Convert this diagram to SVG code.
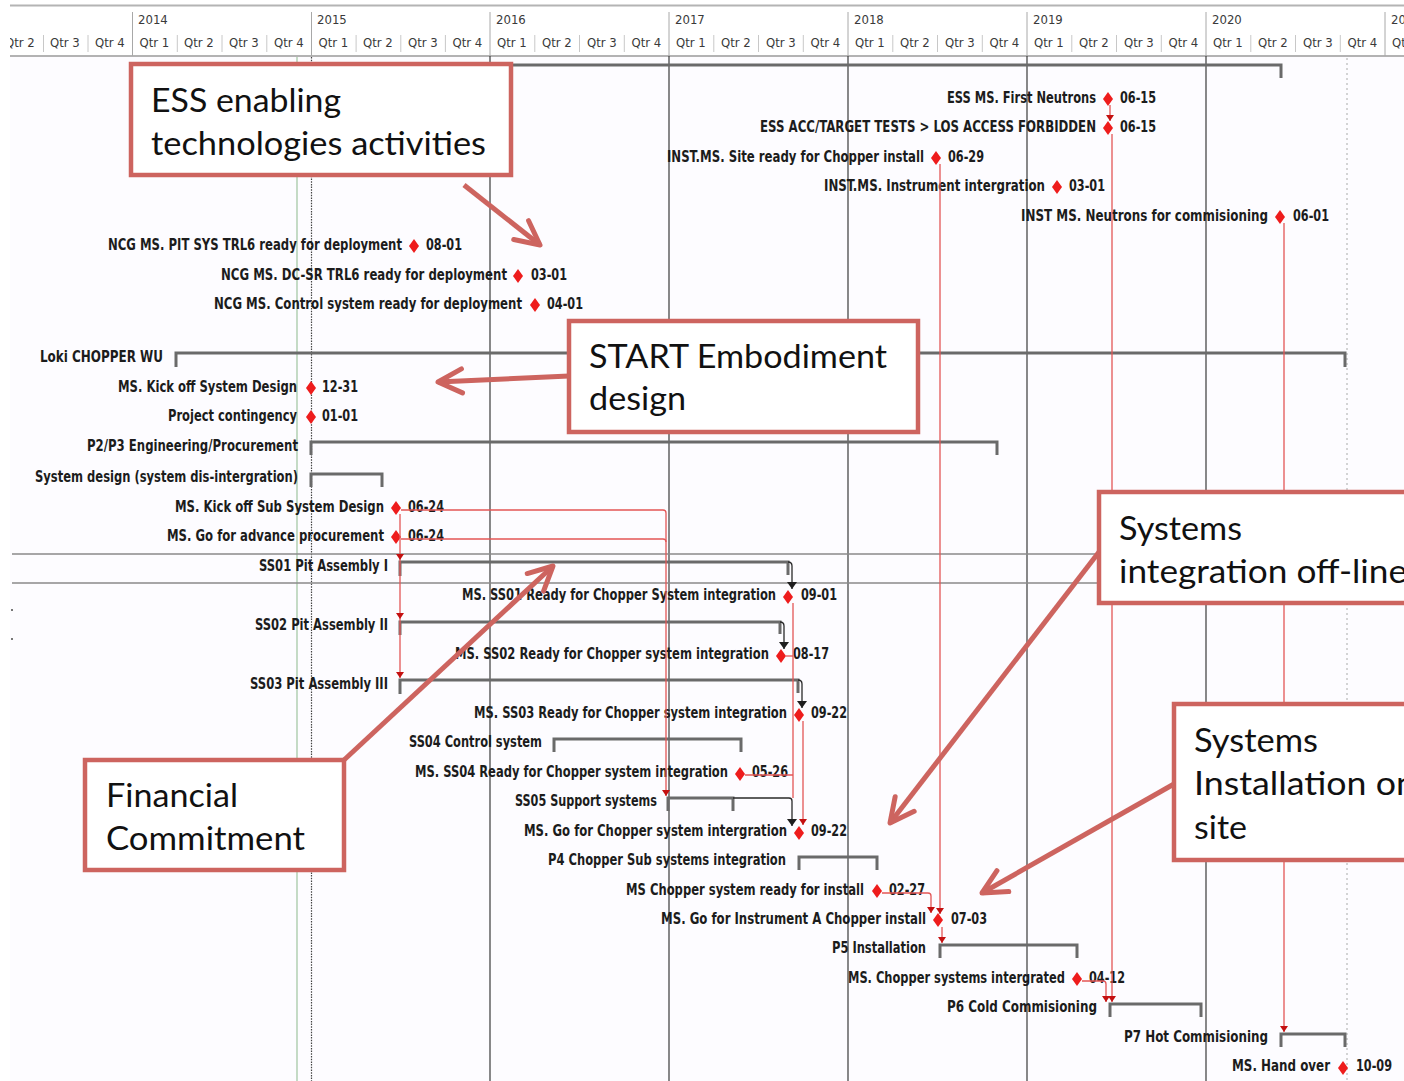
<svg xmlns="http://www.w3.org/2000/svg" xmlns:xlink="http://www.w3.org/1999/xlink" width="1404" height="1081" viewBox="0 0 1404 1081">
  <style>
    .lbl { font-family: "Liberation Sans Narrow", "DejaVu Sans Condensed", "Liberation Sans", sans-serif; font-size: 16px; font-weight: bold; fill: #1c1c1c; }
    .hdr { font-family: "Liberation Sans Narrow", "DejaVu Sans Condensed", "Liberation Sans", sans-serif; font-size: 13px; fill: #3a3a3a; }
    .sum { fill: none; stroke: #6a6a6a; stroke-width: 3; }
    .grid { stroke: #3a3a3a; stroke-width: 1.2; }
    .link { fill: none; stroke: #e35656; stroke-width: 1.3; }
    .blk { fill: none; stroke: #2a2a2a; stroke-width: 1.3; }
    .box { fill: #ffffff; stroke: #cd645f; stroke-width: 4.5; }
    .call { fill: none; stroke: #cd645f; stroke-width: 5; }
    .ctext { font-family: Lato, "Open Sans", "Liberation Sans", sans-serif; font-size: 33px; fill: #111111; }
    .qtick { stroke: #c8c8c8; stroke-width: 1; }
    .ytick { stroke: #a8a8a8; stroke-width: 1; }
  </style>
  <defs>
    <path id="ms" d="M0,-7 L5,0 L0,7 L-5,0 Z" fill="#ee1c1c"/>
    <marker id="ah-red" viewBox="0 0 6 8" refX="6" refY="4" markerWidth="6" markerHeight="8" markerUnits="userSpaceOnUse" orient="auto">
      <path d="M0,0 L6,4 L0,8 Z" fill="#c41010"/>
    </marker>
    <marker id="ah-black" viewBox="0 0 7 10" refX="7" refY="5" markerWidth="7" markerHeight="10" markerUnits="userSpaceOnUse" orient="auto">
      <path d="M0,0 L7,5 L0,10 Z" fill="#1e1e1e"/>
    </marker>
    <marker id="ah-call" viewBox="0 0 30 30" refX="27" refY="15" markerWidth="30" markerHeight="30" markerUnits="userSpaceOnUse" orient="auto">
      <path d="M3,3 L27,15 L3,27" fill="none" stroke="#cd645f" stroke-width="5" stroke-linecap="round" stroke-linejoin="round"/>
    </marker>
    <clipPath id="hdr-clip"><rect x="10" y="0" width="1394" height="60"/></clipPath>
  </defs>

  <!-- chart background -->
  <rect x="0" y="0" width="1404" height="1081" fill="#ffffff"/>
  <rect x="10" y="56" width="1394" height="1025" fill="#fdfcff"/>

  <!-- timescale header -->
  <g id="timescale" clip-path="url(#hdr-clip)">
    <line x1="10" y1="5.5" x2="1404" y2="5.5" stroke="#b4b4b4" stroke-width="2"/>
    <line x1="10" y1="56" x2="1404" y2="56" stroke="#9a9a9a" stroke-width="1.5"/>
    <g class="ytick">
      <line x1="132.5" y1="12" x2="132.5" y2="56"/>
      <line x1="311.5" y1="12" x2="311.5" y2="56"/>
      <line x1="490" y1="12" x2="490" y2="56"/>
      <line x1="669" y1="12" x2="669" y2="56"/>
      <line x1="848" y1="12" x2="848" y2="56"/>
      <line x1="1027" y1="12" x2="1027" y2="56"/>
      <line x1="1206" y1="12" x2="1206" y2="56"/>
      <line x1="1385" y1="12" x2="1385" y2="56"/>
    </g>
    <g class="qtick">
      <line x1="43.5" y1="35" x2="43.5" y2="52"/>
      <line x1="88" y1="35" x2="88" y2="52"/>
      <line x1="177.3" y1="35" x2="177.3" y2="52"/>
      <line x1="222" y1="35" x2="222" y2="52"/>
      <line x1="266.8" y1="35" x2="266.8" y2="52"/>
      <line x1="356.1" y1="35" x2="356.1" y2="52"/>
      <line x1="400.8" y1="35" x2="400.8" y2="52"/>
      <line x1="445.4" y1="35" x2="445.4" y2="52"/>
      <line x1="534.8" y1="35" x2="534.8" y2="52"/>
      <line x1="579.5" y1="35" x2="579.5" y2="52"/>
      <line x1="624.3" y1="35" x2="624.3" y2="52"/>
      <line x1="713.8" y1="35" x2="713.8" y2="52"/>
      <line x1="758.5" y1="35" x2="758.5" y2="52"/>
      <line x1="803.3" y1="35" x2="803.3" y2="52"/>
      <line x1="892.8" y1="35" x2="892.8" y2="52"/>
      <line x1="937.5" y1="35" x2="937.5" y2="52"/>
      <line x1="982.3" y1="35" x2="982.3" y2="52"/>
      <line x1="1071.8" y1="35" x2="1071.8" y2="52"/>
      <line x1="1116.5" y1="35" x2="1116.5" y2="52"/>
      <line x1="1161.3" y1="35" x2="1161.3" y2="52"/>
      <line x1="1250.8" y1="35" x2="1250.8" y2="52"/>
      <line x1="1295.5" y1="35" x2="1295.5" y2="52"/>
      <line x1="1340.3" y1="35" x2="1340.3" y2="52"/>
    </g>
    <g class="hdr">
      <text x="138" y="24">2014</text>
      <text x="317" y="24">2015</text>
      <text x="496" y="24">2016</text>
      <text x="675" y="24">2017</text>
      <text x="854" y="24">2018</text>
      <text x="1033" y="24">2019</text>
      <text x="1212" y="24">2020</text>
      <text x="1391" y="24">2021</text>
    </g>
    <g class="hdr">
      <text x="5" y="47">Qtr 2</text>
      <text x="50" y="47">Qtr 3</text>
      <text x="95" y="47">Qtr 4</text>
      <text x="139.5" y="47">Qtr 1</text>
      <text x="184" y="47">Qtr 2</text>
      <text x="229" y="47">Qtr 3</text>
      <text x="274" y="47">Qtr 4</text>
      <text x="318.5" y="47">Qtr 1</text>
      <text x="363" y="47">Qtr 2</text>
      <text x="408" y="47">Qtr 3</text>
      <text x="452.5" y="47">Qtr 4</text>
      <text x="497" y="47">Qtr 1</text>
      <text x="542" y="47">Qtr 2</text>
      <text x="587" y="47">Qtr 3</text>
      <text x="631.5" y="47">Qtr 4</text>
      <text x="676" y="47">Qtr 1</text>
      <text x="721" y="47">Qtr 2</text>
      <text x="766" y="47">Qtr 3</text>
      <text x="810.5" y="47">Qtr 4</text>
      <text x="855" y="47">Qtr 1</text>
      <text x="900" y="47">Qtr 2</text>
      <text x="945" y="47">Qtr 3</text>
      <text x="989.5" y="47">Qtr 4</text>
      <text x="1034" y="47">Qtr 1</text>
      <text x="1079" y="47">Qtr 2</text>
      <text x="1124" y="47">Qtr 3</text>
      <text x="1168.5" y="47">Qtr 4</text>
      <text x="1213" y="47">Qtr 1</text>
      <text x="1258" y="47">Qtr 2</text>
      <text x="1303" y="47">Qtr 3</text>
      <text x="1347.5" y="47">Qtr 4</text>
      <text x="1392" y="47">Qtr 1</text>
    </g>
  </g>

  <!-- body gridlines -->
  <g id="gridlines">
    <line x1="297" y1="57" x2="297" y2="1081" stroke="#9fc49f" stroke-width="1.2"/>
    <line x1="311.5" y1="57" x2="311.5" y2="1081" stroke="#444" stroke-width="1.2" stroke-dasharray="1.5,1.2"/>
    <line class="grid" x1="490" y1="56" x2="490" y2="1081"/>
    <line class="grid" x1="669" y1="56" x2="669" y2="1081"/>
    <line class="grid" x1="848" y1="56" x2="848" y2="1081"/>
    <line class="grid" x1="1027" y1="56" x2="1027" y2="1081"/>
    <line class="grid" x1="1206" y1="56" x2="1206" y2="1081"/>
    <line x1="1347" y1="58" x2="1347" y2="1081" stroke="#b8b8b8" stroke-width="1.2" stroke-dasharray="2,3"/>
    <!-- selected row outline -->
    <line x1="12" y1="554" x2="1404" y2="554" stroke="#8a8a8a" stroke-width="1.5"/>
    <line x1="12" y1="583" x2="1404" y2="583" stroke="#8a8a8a" stroke-width="1.5"/>
    <rect x="11" y="609" width="2" height="2" fill="#777"/>
    <rect x="11" y="638" width="2" height="2" fill="#777"/>
  </g>

  <!-- task rows -->
  <g id="row-milestones-summary">
    <path class="sum" d="M400,65 H1281 V78"/>
  </g>
  <g id="row-first-neutrons">
    <text class="lbl" x="947" y="103" textLength="149" lengthAdjust="spacingAndGlyphs">ESS MS. First Neutrons</text>
    <use href="#ms" x="1108" y="99"/>
    <text class="lbl" x="1120" y="103" textLength="36" lengthAdjust="spacingAndGlyphs">06-15</text>
  </g>
  <g id="row-acc-target-tests">
    <text class="lbl" x="760" y="132" textLength="336" lengthAdjust="spacingAndGlyphs">ESS ACC/TARGET TESTS &gt; LOS ACCESS FORBIDDEN</text>
    <use href="#ms" x="1108" y="128"/>
    <text class="lbl" x="1120" y="132" textLength="36" lengthAdjust="spacingAndGlyphs">06-15</text>
  </g>
  <g id="row-site-ready">
    <text class="lbl" x="667" y="162" textLength="257" lengthAdjust="spacingAndGlyphs">INST.MS. Site ready for Chopper install</text>
    <use href="#ms" x="936" y="158"/>
    <text class="lbl" x="948" y="162" textLength="36" lengthAdjust="spacingAndGlyphs">06-29</text>
  </g>
  <g id="row-instrument-integration">
    <text class="lbl" x="824" y="191" textLength="221" lengthAdjust="spacingAndGlyphs">INST.MS. Instrument intergration</text>
    <use href="#ms" x="1057" y="187"/>
    <text class="lbl" x="1069" y="191" textLength="36" lengthAdjust="spacingAndGlyphs">03-01</text>
  </g>
  <g id="row-neutrons-commissioning">
    <text class="lbl" x="1021" y="221" textLength="247" lengthAdjust="spacingAndGlyphs">INST MS. Neutrons for commisioning</text>
    <use href="#ms" x="1280" y="217"/>
    <text class="lbl" x="1293" y="221" textLength="36" lengthAdjust="spacingAndGlyphs">06-01</text>
  </g>
  <g id="row-ncg-pit-sys">
    <text class="lbl" x="108" y="250" textLength="294" lengthAdjust="spacingAndGlyphs">NCG MS. PIT SYS TRL6 ready for deployment</text>
    <use href="#ms" x="414" y="246"/>
    <text class="lbl" x="426" y="250" textLength="36" lengthAdjust="spacingAndGlyphs">08-01</text>
  </g>
  <g id="row-ncg-dc-sr">
    <text class="lbl" x="221" y="280" textLength="286" lengthAdjust="spacingAndGlyphs">NCG MS. DC-SR TRL6 ready for deployment</text>
    <use href="#ms" x="518" y="276"/>
    <text class="lbl" x="531" y="280" textLength="36" lengthAdjust="spacingAndGlyphs">03-01</text>
  </g>
  <g id="row-ncg-control">
    <text class="lbl" x="214" y="309" textLength="308" lengthAdjust="spacingAndGlyphs">NCG MS. Control system ready for deployment</text>
    <use href="#ms" x="535" y="305"/>
    <text class="lbl" x="547" y="309" textLength="36" lengthAdjust="spacingAndGlyphs">04-01</text>
  </g>
  <g id="row-loki-chopper-wu">
    <text class="lbl" x="40" y="362" textLength="123" lengthAdjust="spacingAndGlyphs">Loki CHOPPER WU</text>
    <path class="sum" d="M176,367 V353 H1345 V367"/>
  </g>
  <g id="row-kickoff-system-design">
    <text class="lbl" x="118" y="392" textLength="179" lengthAdjust="spacingAndGlyphs">MS. Kick off System Design</text>
    <use href="#ms" x="311" y="388"/>
    <text class="lbl" x="322" y="392" textLength="36" lengthAdjust="spacingAndGlyphs">12-31</text>
  </g>
  <g id="row-project-contingency">
    <text class="lbl" x="168" y="421" textLength="129" lengthAdjust="spacingAndGlyphs">Project contingency</text>
    <use href="#ms" x="311" y="417"/>
    <text class="lbl" x="322" y="421" textLength="36" lengthAdjust="spacingAndGlyphs">01-01</text>
  </g>
  <g id="row-p2p3">
    <text class="lbl" x="87" y="451" textLength="211" lengthAdjust="spacingAndGlyphs">P2/P3 Engineering/Procurement</text>
    <path class="sum" d="M311,455 V442 H997 V455"/>
  </g>
  <g id="row-system-design">
    <text class="lbl" x="35" y="482" textLength="263" lengthAdjust="spacingAndGlyphs">System design (system dis-intergration)</text>
    <path class="sum" d="M311,487 V474 H382 V487"/>
  </g>
  <g id="row-kickoff-subsystem">
    <text class="lbl" x="175" y="512" textLength="209" lengthAdjust="spacingAndGlyphs">MS. Kick off Sub System Design</text>
    <use href="#ms" x="396" y="508"/>
    <text class="lbl" x="408" y="512" textLength="36" lengthAdjust="spacingAndGlyphs">06-24</text>
  </g>
  <g id="row-advance-procurement">
    <text class="lbl" x="167" y="541" textLength="217" lengthAdjust="spacingAndGlyphs">MS. Go for advance procurement</text>
    <use href="#ms" x="396" y="537"/>
    <text class="lbl" x="408" y="541" textLength="36" lengthAdjust="spacingAndGlyphs">06-24</text>
  </g>
  <g id="row-ss01">
    <text class="lbl" x="259" y="571" textLength="129" lengthAdjust="spacingAndGlyphs">SS01 Pit Assembly I</text>
    <path class="sum" d="M400,576 V562 H788 V575"/>
  </g>
  <g id="row-ss01-ready">
    <text class="lbl" x="462" y="600" textLength="314" lengthAdjust="spacingAndGlyphs">MS. SS01 Ready for Chopper System integration</text>
    <use href="#ms" x="788" y="597"/>
    <text class="lbl" x="801" y="600" textLength="36" lengthAdjust="spacingAndGlyphs">09-01</text>
  </g>
  <g id="row-ss02">
    <text class="lbl" x="255" y="630" textLength="133" lengthAdjust="spacingAndGlyphs">SS02 Pit Assembly II</text>
    <path class="sum" d="M400,635 V622 H780 V634"/>
  </g>
  <g id="row-ss02-ready">
    <text class="lbl" x="455" y="659" textLength="314" lengthAdjust="spacingAndGlyphs">MS. SS02 Ready for Chopper system integration</text>
    <use href="#ms" x="781" y="656"/>
    <text class="lbl" x="793" y="659" textLength="36" lengthAdjust="spacingAndGlyphs">08-17</text>
  </g>
  <g id="row-ss03">
    <text class="lbl" x="250" y="689" textLength="138" lengthAdjust="spacingAndGlyphs">SS03 Pit Assembly III</text>
    <path class="sum" d="M400,694 V680 H798 V693"/>
  </g>
  <g id="row-ss03-ready">
    <text class="lbl" x="474" y="718" textLength="313" lengthAdjust="spacingAndGlyphs">MS. SS03 Ready for Chopper system integration</text>
    <use href="#ms" x="799" y="715"/>
    <text class="lbl" x="811" y="718" textLength="36" lengthAdjust="spacingAndGlyphs">09-22</text>
  </g>
  <g id="row-ss04">
    <text class="lbl" x="409" y="747" textLength="133" lengthAdjust="spacingAndGlyphs">SS04 Control system</text>
    <path class="sum" d="M554,752 V739 H741 V752"/>
  </g>
  <g id="row-ss04-ready">
    <text class="lbl" x="415" y="777" textLength="313" lengthAdjust="spacingAndGlyphs">MS. SS04 Ready for Chopper system integration</text>
    <use href="#ms" x="740" y="774"/>
    <text class="lbl" x="752" y="777" textLength="36" lengthAdjust="spacingAndGlyphs">05-26</text>
  </g>
  <g id="row-ss05">
    <text class="lbl" x="515" y="806" textLength="142" lengthAdjust="spacingAndGlyphs">SS05 Support systems</text>
    <path class="sum" d="M668,811 V798 H733 V811"/>
  </g>
  <g id="row-go-system-integration">
    <text class="lbl" x="524" y="836" textLength="263" lengthAdjust="spacingAndGlyphs">MS. Go for Chopper system intergration</text>
    <use href="#ms" x="799" y="833"/>
    <text class="lbl" x="811" y="836" textLength="36" lengthAdjust="spacingAndGlyphs">09-22</text>
  </g>
  <g id="row-p4">
    <text class="lbl" x="548" y="865" textLength="238" lengthAdjust="spacingAndGlyphs">P4 Chopper Sub systems integration</text>
    <path class="sum" d="M799,870 V857 H877 V870"/>
  </g>
  <g id="row-ready-for-install">
    <text class="lbl" x="626" y="895" textLength="238" lengthAdjust="spacingAndGlyphs">MS Chopper system ready for install</text>
    <use href="#ms" x="877" y="891"/>
    <text class="lbl" x="889" y="895" textLength="36" lengthAdjust="spacingAndGlyphs">02-27</text>
  </g>
  <g id="row-go-instrument-install">
    <text class="lbl" x="661" y="924" textLength="265" lengthAdjust="spacingAndGlyphs">MS. Go for Instrument A Chopper install</text>
    <use href="#ms" x="938" y="920"/>
    <text class="lbl" x="951" y="924" textLength="36" lengthAdjust="spacingAndGlyphs">07-03</text>
  </g>
  <g id="row-p5">
    <text class="lbl" x="832" y="953" textLength="94" lengthAdjust="spacingAndGlyphs">P5 Installation</text>
    <path class="sum" d="M940,958 V945 H1077 V958"/>
  </g>
  <g id="row-systems-integrated">
    <text class="lbl" x="848" y="983" textLength="217" lengthAdjust="spacingAndGlyphs">MS. Chopper systems intergrated</text>
    <use href="#ms" x="1077" y="979"/>
    <text class="lbl" x="1089" y="983" textLength="36" lengthAdjust="spacingAndGlyphs">04-12</text>
  </g>
  <g id="row-p6">
    <text class="lbl" x="947" y="1012" textLength="150" lengthAdjust="spacingAndGlyphs">P6 Cold Commisioning</text>
    <path class="sum" d="M1110,1017 V1004 H1201 V1017"/>
  </g>
  <g id="row-p7">
    <text class="lbl" x="1124" y="1042" textLength="144" lengthAdjust="spacingAndGlyphs">P7 Hot Commisioning</text>
    <path class="sum" d="M1281,1047 V1034 H1345 V1047"/>
  </g>
  <g id="row-hand-over">
    <text class="lbl" x="1232" y="1071" textLength="98" lengthAdjust="spacingAndGlyphs">MS. Hand over</text>
    <use href="#ms" x="1343" y="1068"/>
    <text class="lbl" x="1356" y="1071" textLength="36" lengthAdjust="spacingAndGlyphs">10-09</text>
  </g>

  <!-- dependency links -->
  <g id="links">
    <path class="link" d="M1110,105 V121" marker-end="url(#ah-red)"/>
    <path class="link" d="M1112,134 V1002" marker-end="url(#ah-red)"/>
    <path class="link" d="M940,164 V914" marker-end="url(#ah-red)"/>
    <path class="link" d="M1284,223 V1032" marker-end="url(#ah-red)"/>
    <path class="link" d="M401,510 H663 Q666,510 666,513 V796" marker-end="url(#ah-red)"/>
    <path class="link" d="M401,539 H663 Q666,539 666,542"/>
    <path class="link" d="M400,514 V560" marker-end="url(#ah-red)"/>
    <path class="link" d="M400,560 V619" marker-end="url(#ah-red)"/>
    <path class="link" d="M400,619 V678" marker-end="url(#ah-red)"/>
    <path class="link" d="M793,603 V798"/>
    <path class="link" d="M786,656 H793"/>
    <path class="link" d="M745,775 H793"/>
    <path class="link" d="M803,721 V825" marker-end="url(#ah-red)"/>
    <path class="link" d="M882,893 H928 Q931,893 931,896 V913" marker-end="url(#ah-red)"/>
    <path class="link" d="M942,927 V943" marker-end="url(#ah-red)"/>
    <path class="link" d="M1082,981 H1103 Q1106,981 1106,984 V1002" marker-end="url(#ah-red)"/>
    <path class="blk" d="M788,562 Q792,562 792,566 V589" marker-end="url(#ah-black)"/>
    <path class="blk" d="M780,622 Q784,622 784,626 V649" marker-end="url(#ah-black)"/>
    <path class="blk" d="M798,680 Q802,680 802,684 V708" marker-end="url(#ah-black)"/>
    <path class="blk" d="M733,798 H789 Q792,798 792,801 V826" marker-end="url(#ah-black)"/>
  </g>

  <!-- annotation callouts -->
  <g id="callout-ess-enabling">
    <rect class="box" x="131" y="64" width="380" height="111"/>
    <text class="ctext" x="151" y="112" textLength="190" lengthAdjust="spacingAndGlyphs">ESS enabling</text>
    <text class="ctext" x="151" y="155" textLength="335" lengthAdjust="spacingAndGlyphs">technologies activities</text>
  </g>
  <g id="callout-start-embodiment">
    <rect class="box" x="569" y="321" width="349" height="111"/>
    <text class="ctext" x="589" y="368" textLength="298" lengthAdjust="spacingAndGlyphs">START Embodiment</text>
    <text class="ctext" x="589" y="410" textLength="97" lengthAdjust="spacingAndGlyphs">design</text>
  </g>
  <g id="callout-integration-offline">
    <rect class="box" x="1099" y="492" width="330" height="111"/>
    <text class="ctext" x="1119" y="540" textLength="123" lengthAdjust="spacingAndGlyphs">Systems</text>
    <text class="ctext" x="1119" y="583" textLength="288" lengthAdjust="spacingAndGlyphs">integration off-line</text>
  </g>
  <g id="callout-installation-site">
    <rect class="box" x="1174" y="704" width="260" height="156"/>
    <text class="ctext" x="1194" y="752" textLength="124" lengthAdjust="spacingAndGlyphs">Systems</text>
    <text class="ctext" x="1194" y="795" textLength="222" lengthAdjust="spacingAndGlyphs">Installation on</text>
    <text class="ctext" x="1194" y="839" textLength="53" lengthAdjust="spacingAndGlyphs">site</text>
  </g>
  <g id="callout-financial">
    <rect class="box" x="85" y="760" width="259" height="110"/>
    <text class="ctext" x="106" y="807" textLength="132" lengthAdjust="spacingAndGlyphs">Financial</text>
    <text class="ctext" x="106" y="850" textLength="199" lengthAdjust="spacingAndGlyphs">Commitment</text>
  </g>

  <!-- callout pointers -->
  <g id="callout-arrows">
    <line class="call" x1="464" y1="185" x2="540" y2="245" marker-end="url(#ah-call)"/>
    <line class="call" x1="569" y1="376" x2="438" y2="382" marker-end="url(#ah-call)"/>
    <line class="call" x1="1099" y1="552" x2="890" y2="823" marker-end="url(#ah-call)"/>
    <line class="call" x1="1174" y1="784" x2="982" y2="893" marker-end="url(#ah-call)"/>
    <line class="call" x1="344" y1="760" x2="553" y2="566" marker-end="url(#ah-call)"/>
  </g>
</svg>
